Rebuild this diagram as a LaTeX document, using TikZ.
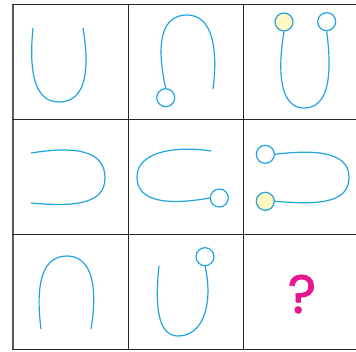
\documentclass[tikz,border=0pt]{standalone}
\usepackage{fontspec}
\newfontfamily\qfont{Poppins}[FakeBold=1.6]
\begin{document}
\begin{tikzpicture}[x=1pt,y=-1pt,
  gridline/.style={draw=black!85,line width=1.5pt},
  curve/.style={draw=cyanblue,line width=1.2pt},
  ring/.style={circle,draw=cyanblue,line width=1.2pt,fill=white,minimum size=18pt,inner sep=0pt},
  yring/.style={ring,fill=paleyellow},
  qmark/.style={text=qpink,font=\qfont\fontsize{54}{54}\selectfont}]
\definecolor{cyanblue}{HTML}{1EA5E0}
\definecolor{paleyellow}{HTML}{FFF7C2}
\definecolor{qpink}{HTML}{E8168C}
\useasboundingbox (0,0) rectangle (356,351);
% grid
\draw[gridline,draw=black!65,line width=2pt] (13,4) -- (13,349.3);
\draw[gridline] (12,4.3) -- (357,4.3);
\draw[gridline] (12,119.3) -- (357,119.3);
\draw[gridline] (12,234.3) -- (357,234.3);
\draw[gridline] (12,349.3) -- (357,349.3);
\draw[gridline] (128.3,4.3) -- (128.3,349.3);
\draw[gridline] (243.3,4.3) -- (243.3,349.3);
% cell 1,1
\draw[curve] (33,28) .. controls (29,68) and (33,102) .. (59,102) .. controls (86,102) and (90,70) .. (83,28);
% cell 1,2
\node[ring] (c12) at (165.7,97.7) {};
\coordinate (e12) at (213,89);
\draw[curve] (c12.north) .. controls (155,40) and (163,15) .. (187,15) .. controls (213,15) and (218,50) .. (e12);
% cell 1,3
\node[yring] (c13a) at (284,22) {};
\node[ring] (c13b) at (326.7,21.7) {};
\draw[curve] (c13a.south) .. controls (276,80) and (283,108) .. (304,108) .. controls (327,108) and (333,80) .. (c13b.south);
% cell 2,1
\draw[curve] (31,153) .. controls (75,146) and (105,150) .. (105,178) .. controls (105,204) and (75,207) .. (31,203);
% cell 2,2
\node[ring] (c22) at (219.3,198) {};
\draw[curve] (211,151) .. controls (180,146) and (137,150) .. (137,177) .. controls (137,203) and (170,205) .. (c22.west);
% cell 2,3
\node[ring] (c23a) at (265.3,154.3) {};
\node[yring] (c23b) at (265.3,201.3) {};
\draw[curve] (c23a.east) .. controls (310,150) and (349,150) .. (349,177) .. controls (349,203) and (320,205) .. (c23b.east);
% cell 3,1
\draw[curve] (41,329) .. controls (35,282) and (43,256) .. (67,256) .. controls (92,256) and (98,287) .. (91,329);
% cell 3,2
\node[ring] (c32) at (205,256.7) {};
\draw[curve] (159,266) .. controls (154,312) and (160,336) .. (178,336) .. controls (205,336) and (213,300) .. (c32.south);
% question mark
\node[qmark,text depth=0pt,inner sep=0pt,anchor=base] (q) at (302,313) {?};
\end{tikzpicture}
\end{document}
